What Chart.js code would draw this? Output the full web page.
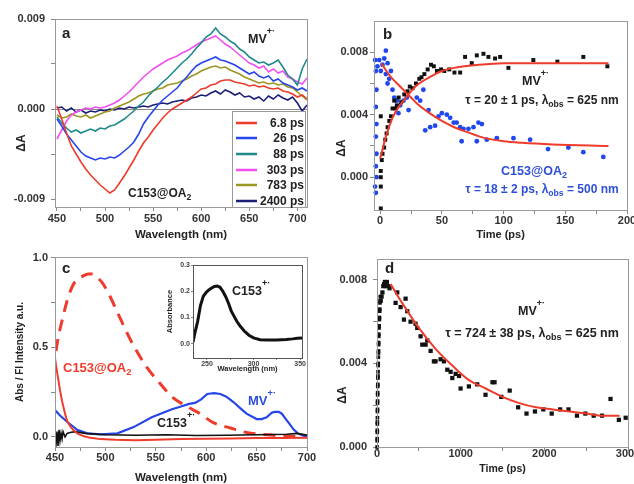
<!DOCTYPE html>
<html>
<head>
<meta charset="utf-8">
<script src="https://cdn.jsdelivr.net/npm/chart.js@4.4.1/dist/chart.umd.min.js"></script>
<style>
  body { margin: 0; background: #fff; width: 634px; height: 484px; position: relative; overflow: hidden; }
  canvas { position: absolute; }
</style>
</head>
<body>
<canvas id="pa" width="320" height="245" style="left:0;top:0"></canvas>
<canvas id="pb" width="314" height="245" style="left:320px;top:0"></canvas>
<canvas id="pc" width="320" height="239" style="left:0;top:245px"></canvas>
<canvas id="pd" width="314" height="239" style="left:320px;top:245px"></canvas>
<canvas id="pi" width="160" height="120" style="left:150px;top:255px"></canvas>
<script>
// ---- panel a: transient spectra ----
const wl = [450,455,460,465,470,475,480,485,490,495,500,505,510,515,520,525,530,535,540,545,550,555,560,565,570,575,580,585,590,595,600,605,610,615,620,625,630,635,640,645,650,655,660,665,670,675,680,685,690,695,700,705,710];
const s6_8 = [0.0003,-0.0010,-0.0024,-0.0037,-0.0045,-0.0053,-0.0060,-0.0066,-0.0071,-0.0076,-0.0080,-0.0084,-0.0081,-0.0074,-0.0067,-0.0059,-0.0051,-0.0042,-0.0034,-0.0028,-0.0021,-0.0015,-0.0009,-0.0004,0.0000,0.0003,0.0006,0.0009,0.0012,0.0016,0.0020,0.0021,0.0024,0.0025,0.0028,0.0029,0.0029,0.0027,0.0026,0.0025,0.0023,0.0024,0.0022,0.0023,0.0021,0.0020,0.0021,0.0018,0.0017,0.0015,0.0012,0.0014,0.0010];
const s26 = [-0.0010,-0.0017,-0.0025,-0.0031,-0.0037,-0.0043,-0.0047,-0.0049,-0.0051,-0.0049,-0.0050,-0.0048,-0.0049,-0.0046,-0.0042,-0.0038,-0.0033,-0.0025,-0.0015,-0.0008,-0.0002,0.0004,0.0009,0.0013,0.0017,0.0021,0.0027,0.0032,0.0038,0.0043,0.0046,0.0048,0.0050,0.0052,0.0049,0.0048,0.0046,0.0044,0.0041,0.0038,0.0035,0.0037,0.0033,0.0031,0.0033,0.0028,0.0030,0.0026,0.0024,0.0022,0.0019,0.0021,0.0018];
const s88 = [-0.0008,-0.0014,-0.0019,-0.0023,-0.0021,-0.0024,-0.0022,-0.0020,-0.0022,-0.0019,-0.0020,-0.0017,-0.0016,-0.0013,-0.0010,-0.0006,-0.0002,0.0003,0.0007,0.0013,0.0018,0.0022,0.0027,0.0031,0.0036,0.0041,0.0046,0.0050,0.0055,0.0061,0.0066,0.0072,0.0075,0.0081,0.0075,0.0072,0.0068,0.0065,0.0060,0.0057,0.0052,0.0049,0.0046,0.0047,0.0044,0.0046,0.0049,0.0042,0.0034,0.0030,0.0024,0.0040,0.0050];
const s303 = [-0.0030,-0.0021,-0.0012,-0.0006,-0.0003,-0.0001,0.0001,0.0000,0.0002,0.0001,0.0002,0.0004,0.0006,0.0009,0.0013,0.0017,0.0022,0.0027,0.0032,0.0036,0.0040,0.0043,0.0046,0.0049,0.0051,0.0053,0.0056,0.0058,0.0061,0.0064,0.0067,0.0069,0.0071,0.0073,0.0069,0.0065,0.0062,0.0058,0.0054,0.0050,0.0046,0.0044,0.0041,0.0043,0.0037,0.0040,0.0036,0.0038,0.0032,0.0030,0.0027,0.0025,0.0031];
const s783 = [-0.0006,-0.0009,-0.0008,-0.0005,-0.0007,-0.0008,-0.0006,-0.0009,-0.0007,-0.0005,-0.0003,-0.0002,0.0001,0.0003,0.0005,0.0007,0.0010,0.0013,0.0015,0.0016,0.0018,0.0020,0.0021,0.0024,0.0025,0.0026,0.0028,0.0030,0.0033,0.0035,0.0038,0.0040,0.0042,0.0043,0.0041,0.0042,0.0039,0.0037,0.0035,0.0032,0.0030,0.0028,0.0026,0.0027,0.0025,0.0026,0.0024,0.0025,0.0022,0.0021,0.0017,0.0013,0.0009];
const s2400 = [0.0001,0.0002,-0.0002,0.0001,-0.0003,-0.0001,-0.0004,-0.0002,-0.0003,-0.0001,-0.0002,0.0000,-0.0001,0.0001,0.0000,0.0002,0.0001,0.0002,0.0003,0.0002,0.0004,0.0005,0.0006,0.0005,0.0007,0.0008,0.0009,0.0008,0.0011,0.0012,0.0014,0.0013,0.0016,0.0018,0.0015,0.0019,0.0017,0.0014,0.0016,0.0012,0.0013,0.0010,0.0012,0.0008,0.0013,0.0010,0.0014,0.0011,0.0009,0.0012,0.0006,-0.0002,0.0004];
const delays = ['6.8 ps','26 ps','88 ps','303 ps','783 ps','2400 ps'];

// ---- panel b: kinetics ----
const bMvT = [0.5,0.5,0.5,0.5,0.5,1.3,1.9,3.2,4.1,5.2,6.0,7.4,8.7,10.0,11.4,12.5,13.5,15.0,17.0,19.5,22.2,24.0,26.2,29.0,31.7,33.5,35.8,38.5,41.2,43.5,46.0,49.3,52.0,56.0,60.2,64.8,68.8,74.2,78.3,83.7,87.7,93.1,97.2,103.9,124.1,143.6,164.6,184.1];
const bMvA = [-0.0020,-0.0006,0.0000,0.0004,0.0039,0.0011,0.0015,0.0019,0.0024,0.0028,0.0032,0.0036,0.0039,0.0044,0.0049,0.0044,0.0046,0.0051,0.0048,0.0053,0.0055,0.0058,0.0057,0.0060,0.0063,0.0064,0.0066,0.0069,0.0072,0.0071,0.0068,0.0069,0.0068,0.0069,0.0067,0.0067,0.0077,0.0073,0.0078,0.0079,0.0077,0.0076,0.0077,0.0070,0.0075,0.0074,0.0077,0.0071];
const bC153T = [-4.1,-3.5,-3.0,-3.5,-3.0,-3.5,-3.0,-3.5,-3.0,-4.1,-3.5,-2.2,-0.8,0.5,1.9,3.3,4.6,4.6,6.0,7.3,8.7,6.0,10.0,11.4,13.5,14.8,16.2,18.9,21.6,23.0,29.7,32.4,35.0,36.5,39.2,40.5,44.5,47.3,50.0,54.0,56.7,59.6,62.0,64.8,66.0,67.5,71.5,75.6,78.3,79.6,82.4,86.4,94.5,108.0,121.5,136.0,152.5,164.6,180.8];
const bC153A = [0.0075,0.0068,0.0056,0.0045,0.0034,0.0026,0.0015,0.0007,0.0000,-0.0006,-0.0010,0.0071,0.0075,0.0068,0.0072,0.0076,0.0081,0.0066,0.0073,0.0063,0.0068,0.0060,0.0056,0.0051,0.0049,0.0041,0.0046,0.0049,0.0051,0.0043,0.0051,0.0049,0.0056,0.0030,0.0043,0.0032,0.0033,0.0039,0.0041,0.0040,0.0038,0.0035,0.0035,0.0032,0.0023,0.0031,0.0031,0.0032,0.0023,0.0035,0.0034,0.0024,0.0025,0.0025,0.0024,0.0018,0.0019,0.0016,0.0013];
const bFitMvT = [0,2,5,10,15,20,25,30,40,50,60,80,100,125,150,185];
const bFitMvA = [0.0012,0.0018,0.0027,0.0038,0.0045,0.0050,0.0055,0.0059,0.0064,0.0068,0.0070,0.0072,0.0073,0.0073,0.0073,0.0073];
const bFitC153T = [1,5,10,15,20,25,30,40,50,60,70,85,100,115,140,185];
const bFitC153A = [0.0073,0.0068,0.0063,0.0059,0.0055,0.0051,0.0047,0.0041,0.0036,0.0032,0.0029,0.0025,0.0023,0.0022,0.0021,0.0020];

// ---- panel c: steady-state spectra ----
const cFlT = [451,453,457,462,468,473,478,483,487,492,497,505,514,527,541,554,567,581,594,607,624,640,660,680,700];
const cFlA = [0.48,0.55,0.65,0.76,0.85,0.88,0.90,0.91,0.91,0.89,0.86,0.78,0.67,0.52,0.39,0.30,0.22,0.17,0.13,0.08,0.05,0.025,0.012,0.005,0.003];
const cAbsT = [450,451,453,455,457,460,462,465,468,472,478,485,495,510,530,550,575,600,625,650,675,700];
const cAbsA = [0.44,0.40,0.33,0.26,0.20,0.13,0.09,0.06,0.04,0.02,0.005,-0.005,-0.012,-0.016,-0.018,-0.015,-0.012,-0.010,-0.008,-0.006,-0.006,-0.004];
const cMvT = [450,455,462,472,482,495,512,528,546,566,575,583,589,595,601,608,614,620,627,634,640,650,655,660,665,668,672,675,679,683,687,691,695,700];
const cMvA = [0.15,0.12,0.085,0.04,0.02,0.015,0.02,0.055,0.11,0.155,0.17,0.185,0.19,0.21,0.24,0.245,0.24,0.225,0.195,0.16,0.13,0.10,0.10,0.11,0.135,0.14,0.14,0.13,0.10,0.07,0.04,0.02,0.01,0.005];
const cCatT = [450,451,452,453,454,455,456,457,458,460,462,465,470,480,500,530,560,590,620,650,680,690,700];
const cCatA = [0.0,-0.04,0.03,-0.05,0.04,-0.02,0.02,-0.01,0.03,0.0,0.02,0.025,0.03,0.02,0.012,0.01,0.012,0.008,0.01,0.012,0.015,0.02,0.01];
const insT = [235,237,240,243,246,249,252,255,258,261,264,267,270,273,276,279,282,286,290,295,300,307,315,325,335,342,347,352];
const insA = [0.005,0.04,0.085,0.145,0.18,0.195,0.205,0.212,0.218,0.22,0.215,0.2,0.18,0.155,0.125,0.105,0.085,0.065,0.048,0.032,0.022,0.015,0.014,0.014,0.016,0.018,0.02,0.021];

// ---- panel d: long decay ----
const dRiseT = [1,2,2,3,3,4,4,5,5,6,6,7,8,8,9,10,11,12,13,14,15,16,17,18,19,20,21,22,24,26,28,30,32,34,36,38,40];
const dRiseA = [0.0000,0.0003,0.0004,0.0007,0.0008,0.0011,0.0012,0.0014,0.0017,0.0018,0.0021,0.0022,0.0025,0.0026,0.0029,0.0030,0.0033,0.0034,0.0036,0.0039,0.0040,0.0043,0.0045,0.0046,0.0049,0.0050,0.0053,0.0054,0.0057,0.0058,0.0061,0.0062,0.0065,0.0066,0.0069,0.0070,0.0072];
const dT = [45,55,65,75,85,95,105,118,137,150,222,242,282,322,342,362,401,461,481,521,541,581,601,641,680,700,760,800,840,880,900,940,980,999,1098,1198,1297,1380,1405,1486,1586,1687,1787,1888,1988,2088,2189,2289,2390,2490,2590,2690,2791,2891,2972];
const dA = [0.0070,0.0072,0.0074,0.0077,0.0078,0.0079,0.0077,0.0079,0.0077,0.0076,0.0069,0.0074,0.0067,0.0061,0.0071,0.0065,0.0060,0.0059,0.0057,0.0053,0.0049,0.0049,0.0051,0.0046,0.0041,0.0041,0.0042,0.0041,0.0037,0.0036,0.0033,0.0035,0.0034,0.0028,0.0029,0.0030,0.0025,0.0031,0.0031,0.0024,0.0027,0.0019,0.0016,0.0017,0.0018,0.0016,0.0018,0.0018,0.0015,0.0016,0.0015,0.0015,0.0023,0.0013,0.0014];
const dFitT = [163,300,500,700,900,1100,1300,1500,1700,1900,2100,2300,2500,2700,2900];
const dFitA = [0.0078,0.0069,0.0057,0.0047,0.0039,0.0032,0.0028,0.0024,0.0021,0.0019,0.0018,0.0017,0.0016,0.0015,0.0015];

const FAM = '"Liberation Sans", Arial, Helvetica, sans-serif';
const RED = '#ee3b2c', BLUE = '#2746e8', BLUETXT = '#2c4fd8';
Chart.defaults.font.family = FAM;
Chart.defaults.font.weight = 'bold';
Chart.defaults.color = '#333';
Chart.defaults.animation = false;
Chart.defaults.responsive = false;
Chart.defaults.plugins.legend.display = false;
Chart.defaults.plugins.tooltip.enabled = false;

const pts = (xs, ys) => xs.map((x, i) => ({ x: x, y: ys[i] }));

function drawRich(ctx, n) {
  const size = n.size;
  const fontFor = m => 'bold ' + (m ? size * 0.72 : size) + 'px ' + FAM;
  let w = 0;
  n.parts.forEach(([t, m]) => { ctx.font = fontFor(m); w += ctx.measureText(t).width; });
  ctx.save();
  let x0 = n.x, y0 = n.y;
  if (n.rot) {
    ctx.translate(n.x, n.y);
    ctx.rotate(n.rot);
    x0 = 0; y0 = size * 0.36;
  }
  let cx = n.align === 'center' ? x0 - w / 2 : x0;
  ctx.fillStyle = n.color || '#222';
  ctx.textAlign = 'left';
  ctx.textBaseline = 'alphabetic';
  n.parts.forEach(([t, m]) => {
    ctx.font = fontFor(m);
    const dy = m === 'sup' ? -size * 0.72 : m === 'sub' ? size * 0.25 : 0;
    ctx.fillText(t, cx, y0 + dy);
    cx += ctx.measureText(t).width;
  });
  ctx.restore();
}

// box round the plot, zero line, texts, legend
function framePlugin(cfg) {
  return {
    id: 'frame',
    beforeDatasetsDraw(chart) {
      if (!cfg.zero) return;
      const { ctx, chartArea: a } = chart;
      const y = Math.round(chart.scales.y.getPixelForValue(0)) + 0.5;
      ctx.save();
      ctx.strokeStyle = '#8a8a8a';
      ctx.lineWidth = 1;
      ctx.beginPath(); ctx.moveTo(a.left, y); ctx.lineTo(a.right, y); ctx.stroke();
      ctx.restore();
    },
    afterDatasetsDraw(chart) {
      const { ctx, chartArea: a } = chart;
      ctx.save();
      ctx.strokeStyle = cfg.color || '#9a9a9a';
      ctx.lineWidth = 1;
      ctx.strokeRect(Math.round(a.left) + 0.5, Math.round(a.top) + 0.5, Math.round(a.right - a.left), Math.round(a.bottom - a.top));
      if (cfg.legend) {
        const L = cfg.legend;
        ctx.fillStyle = '#fff';
        ctx.fillRect(L.x, L.y, L.w, L.h);
        ctx.strokeRect(L.x + 0.5, L.y + 0.5, L.w, L.h);
        ctx.font = 'bold 12px ' + FAM;
        ctx.textAlign = 'right';
        ctx.textBaseline = 'middle';
        chart.data.datasets.forEach((ds, i) => {
          const y = L.rows[i];
          ctx.strokeStyle = ds.borderColor;
          ctx.lineWidth = 2.5;
          ctx.beginPath(); ctx.moveTo(L.x + 4, y); ctx.lineTo(L.x + 25, y); ctx.stroke();
          ctx.fillStyle = '#222';
          ctx.fillText(ds.label, L.x + L.w - 1, y + 1);
        });
      }
      ctx.restore();
      (cfg.notes || []).forEach(n => drawRich(ctx, n));
    }
  };
}

function axis(o) {
  return {
    type: 'linear',
    min: o.min, max: o.max,
    border: { display: false },
    grid: { drawOnChartArea: false, drawTicks: true, tickLength: o.tl || 4, color: '#888' },
    ticks: {
      font: { size: o.size || 11, weight: 'bold', lineHeight: 1 },
      color: o.tcolor || '#333',
      padding: o.pad,
      autoSkip: false, maxRotation: 0,
      callback: v => o.major.includes(v) ? o.fmt(v) : ''
    },
    afterBuildTicks: s => { s.ticks = o.major.concat(o.minor).sort((p, q) => p - q).map(v => ({ value: v })); },
    afterFit: s => {
      if (s.isHorizontal()) s.height = o.box; else s.width = o.box;
      s.paddingLeft = 0; s.paddingRight = 0; s.paddingTop = 0; s.paddingBottom = 0;
    },
    title: {
      display: !!o.title, text: o.title || '', color: '#222',
      font: { size: o.tsize || 11, weight: 'bold', lineHeight: 1 },
      padding: o.tpad || 0
    }
  };
}

const f3 = v => v.toFixed(3), f1 = v => v.toFixed(1), fi = v => String(v);
const dA_title = (x, y) => ({ x: x, y: y, size: 12, rot: -Math.PI / 2, align: 'center', parts: [['ΔA', '']] });

// panel a
const aColors = [RED, BLUE, '#1e8a8a', '#f24ff2', '#9c9622', '#1c1f78'];
const aSeries = [s6_8, s26, s88, s303, s783, s2400];
new Chart(document.getElementById('pa'), {
  type: 'line',
  data: {
    datasets: aSeries.map((s, i) => ({
      label: delays[i], data: pts(wl, s), borderColor: aColors[i],
      borderWidth: 1.6, pointRadius: 0, tension: 0
    }))
  },
  options: {
    layout: { padding: { top: 19, right: 13, left: 0, bottom: 0 } },
    scales: {
      x: axis({ min: 448, max: 710, major: [450,500,550,600,650,700], minor: [475,525,575,625,675], fmt: fi,
        pad: 2, box: 38, title: 'Wavelength (nm)', tsize: 11.5, tpad: { top: 0, bottom: 4 } }),
      y: axis({ min: -0.0098, max: 0.009, major: [-0.009, 0, 0.009], minor: [-0.0045, 0.0045], fmt: f3,
        pad: 6, box: 55 })
    }
  },
  plugins: [framePlugin({
    zero: true,
    legend: { x: 232, y: 111, w: 73, h: 96, rows: [123, 138, 154, 170, 185, 201] },
    notes: [
      dA_title(21, 143),
      { x: 62, y: 38, size: 15, parts: [['a', '']] },
      { x: 248, y: 43, size: 12.5, parts: [['MV', ''], ['+·', 'sup']] },
      { x: 128, y: 197, size: 12, parts: [['C153@OA', ''], ['2', 'sub']] }
    ]
  })]
});

// panel b
new Chart(document.getElementById('pb'), {
  type: 'scatter',
  data: {
    datasets: [
      { data: pts(bFitMvT, bFitMvA), showLine: true, borderColor: RED, borderWidth: 2, pointRadius: 0, cubicInterpolationMode: 'monotone' },
      { data: pts(bFitC153T, bFitC153A), showLine: true, borderColor: RED, borderWidth: 2, pointRadius: 0, cubicInterpolationMode: 'monotone' },
      { data: pts(bMvT, bMvA), pointStyle: 'rect', pointRadius: 2.8, backgroundColor: '#111', borderWidth: 0, clip: false },
      { data: pts(bC153T, bC153A), pointStyle: 'circle', pointRadius: 2.4, backgroundColor: '#1f47f0', borderWidth: 0, clip: false }
    ]
  },
  options: {
    layout: { padding: { top: 21, right: 7, left: 0, bottom: 0 } },
    scales: {
      x: axis({ min: -5, max: 200, major: [0,50,100,150,200], minor: [25,75,125,175], fmt: fi,
        pad: 1, box: 35, title: 'Time (ps)', tsize: 11, tpad: { top: 0, bottom: 4.5 } }),
      y: axis({ min: -0.0021, max: 0.0100, major: [0, 0.004, 0.008], minor: [0.002, 0.006], fmt: f3,
        pad: 2, box: 54 })
    }
  },
  plugins: [framePlugin({
    notes: [
      dA_title(21, 148),
      { x: 63, y: 39, size: 15, parts: [['b', '']] },
      { x: 202, y: 85, size: 12.5, parts: [['MV', ''], ['+·', 'sup']] },
      { x: 222, y: 104, size: 12, align: 'center', parts: [['τ = 20 ± 1 ps, λ', ''], ['obs', 'sub'], [' = 625 nm', '']] },
      { x: 214, y: 175, size: 12.5, align: 'center', color: BLUETXT, parts: [['C153@OA', ''], ['2', 'sub']] },
      { x: 222, y: 193, size: 12, align: 'center', color: BLUETXT, parts: [['τ = 18 ± 2 ps, λ', ''], ['obs', 'sub'], [' = 500 nm', '']] }
    ]
  })]
});

// panel c
new Chart(document.getElementById('pc'), {
  type: 'scatter',
  data: {
    datasets: [
      { data: pts(cAbsT, cAbsA), showLine: true, borderColor: RED, borderWidth: 2, pointRadius: 0 },
      { data: pts(cCatT, cCatA), showLine: true, borderColor: '#111', borderWidth: 1.6, pointRadius: 0 },
      { data: pts(cMvT, cMvA), showLine: true, borderColor: BLUE, borderWidth: 2.2, pointRadius: 0 },
      { data: pts(cFlT, cFlA), showLine: true, borderColor: RED, borderWidth: 3, borderDash: [12, 8], pointRadius: 0, cubicInterpolationMode: 'monotone' }
    ]
  },
  options: {
    layout: { padding: { top: 12, right: 13, left: 0, bottom: 0 } },
    scales: {
      x: axis({ min: 450, max: 700, major: [450,500,550,600,650,700], minor: [475,525,575,625,675], fmt: fi,
        pad: 1, box: 37, title: 'Wavelength (nm)', tsize: 11.5, tpad: { top: 0, bottom: 0 } }),
      y: axis({ min: -0.056, max: 1.005, major: [0, 0.5, 1.0], minor: [0.25, 0.75], fmt: f1,
        pad: 3, box: 55, title: 'Abs / Fl Intensity a.u.', tsize: 10, tpad: { top: 15, bottom: 0 } })
    }
  },
  plugins: [framePlugin({
    notes: [
      { x: 62, y: 28, size: 15, parts: [['c', '']] },
      { x: 63, y: 127, size: 13, color: RED, parts: [['C153@OA', ''], ['2', 'sub']] },
      { x: 248, y: 160, size: 13, color: BLUETXT, parts: [['MV', ''], ['+·', 'sup']] },
      { x: 157, y: 182, size: 12.5, parts: [['C153', ''], ['+·', 'sup']] },
      { x: 232, y: 50, size: 12.5, parts: [['C153', ''], ['+·', 'sup']] }
    ]
  })]
});

// inset of panel c
new Chart(document.getElementById('pi'), {
  type: 'scatter',
  data: { datasets: [{ data: pts(insT, insA), showLine: true, borderColor: '#111', borderWidth: 3, pointRadius: 0 }] },
  options: {
    layout: { padding: { top: 10, right: 8, left: 0, bottom: 0 } },
    scales: {
      x: axis({ min: 235, max: 352, major: [250, 300, 350], minor: [275, 325], fmt: fi, size: 7, tl: 2, tcolor: '#444',
        pad: 1, box: 17, title: 'Wavelength (nm)', tsize: 7.5, tpad: { top: 0, bottom: 2 } }),
      y: axis({ min: -0.055, max: 0.3, major: [0, 0.1, 0.2, 0.3], minor: [], fmt: f1, size: 7, tl: 2, tcolor: '#444',
        pad: 1, box: 43, title: 'Absorbance', tsize: 7.5, tpad: { top: 16, bottom: 0 } })
    }
  },
  plugins: [framePlugin({ color: '#555' })]
});

// panel d
new Chart(document.getElementById('pd'), {
  type: 'scatter',
  data: {
    datasets: [
      { data: pts(dFitT, dFitA), showLine: true, borderColor: RED, borderWidth: 2, pointRadius: 0, cubicInterpolationMode: 'monotone' },
      { data: pts(dT, dA), pointStyle: 'rect', pointRadius: 3, backgroundColor: '#111', borderWidth: 0 },
      { data: pts(dRiseT, dRiseA), pointStyle: 'rect', pointRadius: 2.6, backgroundColor: '#111', borderWidth: 0, clip: false }
    ]
  },
  options: {
    layout: { padding: { top: 14, right: 6, left: 0, bottom: 0 } },
    scales: {
      x: axis({ min: 0, max: 3000, major: [0, 1000, 2000, 3000], minor: [500, 1500, 2500], fmt: fi,
        pad: -3, box: 37, title: 'Time (ps)', tsize: 10.5, tpad: { top: 0, bottom: 10 } }),
      y: axis({ min: 0, max: 0.009, major: [0, 0.004, 0.008], minor: [0.002, 0.006], fmt: f3,
        pad: 6, box: 57 })
    }
  },
  plugins: [framePlugin({
    notes: [
      dA_title(22, 150),
      { x: 65, y: 28, size: 15, parts: [['d', '']] },
      { x: 198, y: 70, size: 12.5, parts: [['MV', ''], ['+·', 'sup']] },
      { x: 212, y: 92, size: 12.5, align: 'center', parts: [['τ = 724 ± 38 ps, λ', ''], ['obs', 'sub'], [' = 625 nm', '']] }
    ]
  })]
});
</script>
</body>
</html>
